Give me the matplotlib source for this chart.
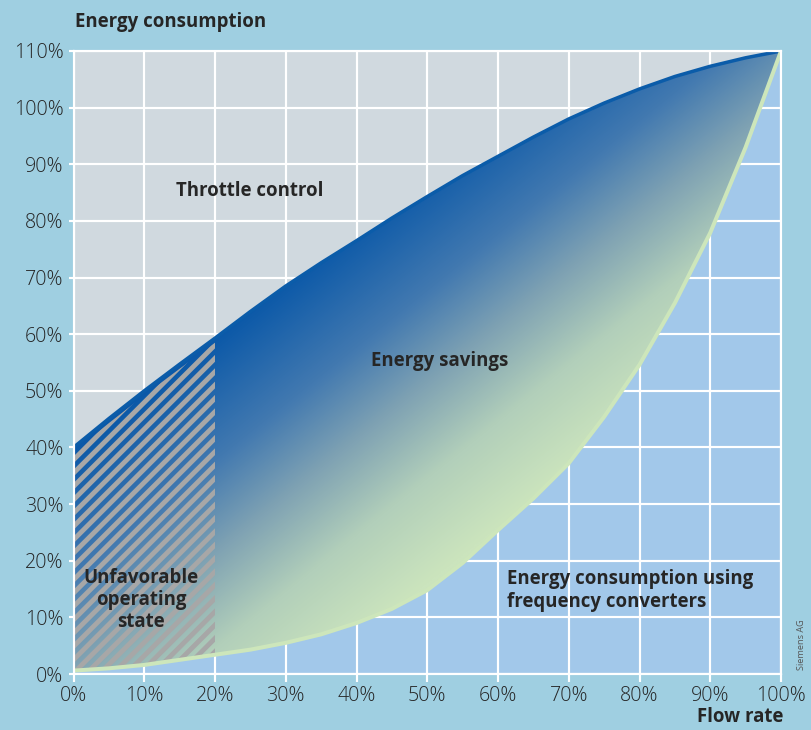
import numpy as np
import matplotlib
matplotlib.use("Agg")
import matplotlib.pyplot as plt
from matplotlib.colors import LinearSegmentedColormap, Normalize
from matplotlib.patches import Polygon

# ---- data ----
flow = [0, 5, 10, 15, 20, 25, 30, 35, 40, 45, 50, 55, 60, 65, 70, 75, 80, 85, 90, 95, 100]
throttle = [40.0, 45.1, 50.0, 54.7, 59.3, 64.0, 68.5, 72.6, 76.5, 80.5, 84.3, 88.0, 91.4,
            94.8, 98.0, 100.8, 103.3, 105.5, 107.3, 108.8, 110.0]
converter = [0.6, 1.0, 1.6, 2.5, 3.4, 4.3, 5.5, 7.0, 9.0, 11.5, 14.8, 19.6, 25.4,
             31.0, 37.2, 45.4, 54.6, 65.5, 77.9, 93.0, 110.0]
unfavorable_limit = 20
x_ticks = list(range(0, 101, 10))
y_ticks = list(range(0, 111, 10))
x_ticklabels = [f"{v}%" for v in x_ticks]
y_ticklabels = [f"{v}%" for v in y_ticks]

BG = "#9fcfe1"
GRAY = "#d0d9df"
BLUE = "#a2c8ea"
DARK = "#0b5ca9"
PALE = "#cde6bb"
TXT = "#262626"

plt.rcParams["hatch.linewidth"] = 2.9
plt.rcParams["font.family"] = ["Open Sans", "DejaVu Sans"]

DPI = 120
W, H = 811, 730
fig = plt.figure(figsize=(W / DPI, H / DPI), dpi=DPI, facecolor=BG)
x0, x1, yb, yt = 73.5, 781, 674, 51
ax = fig.add_axes([x0 / W, 1 - yb / H, (x1 - x0) / W, (yb - yt) / H])
ax.set_xlim(0, 100)
ax.set_ylim(0, 110)
ax.set_facecolor(GRAY)

fx = np.array(flow, dtype=float)
th = np.array(throttle)
cv = np.array(converter)

# background regions
ax.fill_between(fx, th, 110, color=GRAY, lw=0, zorder=0.5)
ax.fill_between(fx, 0, cv, color=BLUE, lw=0, zorder=0.5)

# grid
for v in x_ticks:
    ax.axvline(v, color="white", lw=1.3, zorder=1)
for v in y_ticks:
    ax.axhline(v, color="white", lw=1.3, zorder=1)

# gradient between curves
cmap = LinearSegmentedColormap.from_list(
    "sav", [(0.0, "#0a58a8"), (0.3, "#4279b0"), (0.52, "#7fa2b3"),
            (0.75, "#b2cfba"), (1.0, "#cbe4bd")])
gx, gy = np.meshgrid(np.linspace(0, 100, 500), np.linspace(0, 110, 550))
t = gx - gy
img = cmap(Normalize(-40, 34)(t))
poly = Polygon(np.column_stack([np.concatenate([fx, fx[::-1]]),
                                np.concatenate([th, cv[::-1]])]),
               closed=True, facecolor="none", edgecolor="none")
ax.add_patch(poly)
im = ax.imshow(img, extent=[0, 100, 0, 110], origin="lower", aspect="auto", zorder=2,
               interpolation="bilinear")
im.set_clip_path(poly)

# hatched unfavorable region
m = fx <= unfavorable_limit
ax.fill_between(fx[m], cv[m], th[m] - 0.8, facecolor="none", edgecolor="#a7a7a7",
                hatch="///", lw=0, zorder=3)

# curves
ax.plot(fx, th, color=DARK, lw=2.1, zorder=4, solid_capstyle="butt")
ax.plot(fx, cv, color=PALE, lw=2.4, zorder=4, solid_capstyle="butt")

# spines / ticks
for s in ax.spines.values():
    s.set_color("white")
    s.set_linewidth(1.3)
    s.set_zorder(5)
ax.set_xticks(x_ticks)
ax.set_xticklabels(x_ticklabels)
ax.set_yticks(y_ticks)
ax.set_yticklabels(y_ticklabels)
ax.tick_params(axis="x", colors="white", labelcolor=TXT, length=5, width=1.3,
               labelsize=11.8, pad=2)
ax.tick_params(axis="y", colors="white", labelcolor=TXT, length=3, width=1.3,
               labelsize=11.8, pad=3)
for lab in ax.get_xticklabels() + ax.get_yticklabels():
    lab.set_fontweight("light")

# texts
BF = 11.2
fig.text(75 / W, 1 - 22 / H, "Energy consumption", ha="left", va="center",
         fontsize=BF, fontweight="bold", color=TXT)
fig.text(783 / W, 1 - 717 / H, "Flow rate", ha="right", va="center",
         fontsize=BF, fontweight="bold", color=TXT)
fig.text(801 / W, 1 - 645 / H, "Siemens AG", ha="center", va="center", rotation=90,
         fontsize=5.5, color="#555555")

ax.text(24.9, 85.2, "Throttle control", ha="center", va="center", fontsize=BF,
        fontweight="bold", color=TXT, zorder=6)
ax.text(51.7, 55.3, "Energy savings", ha="center", va="center", fontsize=BF,
        fontweight="bold", color=TXT, zorder=6)
ax.text(9.6, 13.1, "Unfavorable\noperating\nstate", ha="center", va="center",
        fontsize=BF, fontweight="bold", color=TXT, linespacing=1.15, zorder=6)
ax.text(61.3, 14.8, "Energy consumption using\nfrequency converters", ha="left",
        va="center", fontsize=BF, fontweight="bold", color=TXT, linespacing=1.2,
        zorder=6)

fig.savefig("out.png", dpi=DPI, facecolor=BG)
